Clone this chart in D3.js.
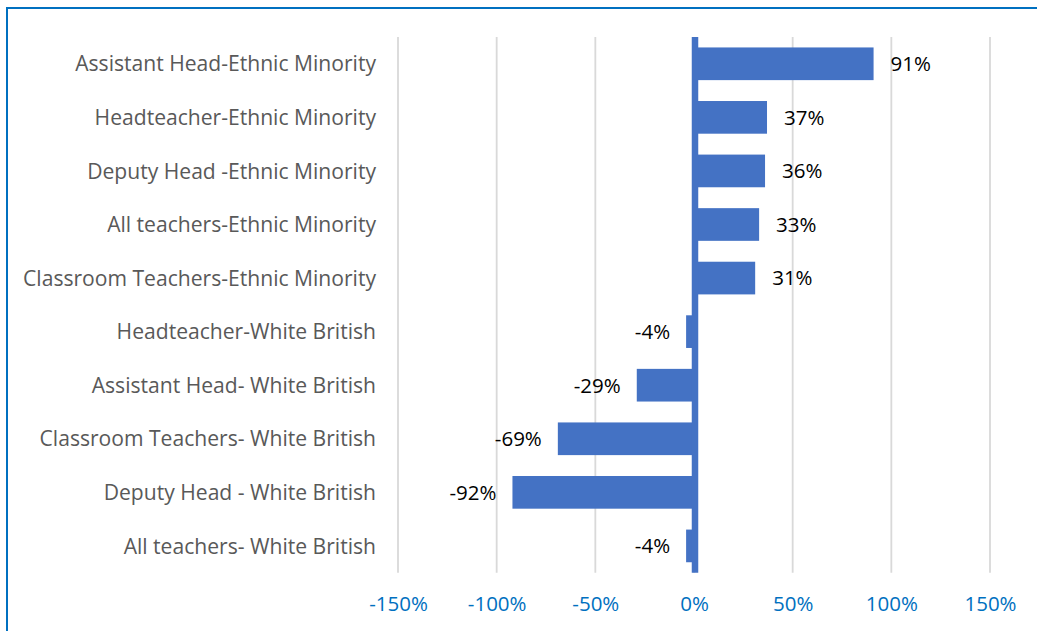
<!DOCTYPE html>
<html>
<head>
<meta charset="utf-8">
<script src="https://cdn.jsdelivr.net/npm/d3@7"></script>
<style>
  html, body { margin: 0; padding: 0; background: #fff; }
  svg { display: block; }
</style>
</head>
<body>
<svg id="chart" width="1037" height="631"></svg>
<script>
// Change in staff numbers by role and ethnicity
const categories = [
  "Assistant Head-Ethnic Minority",
  "Headteacher-Ethnic Minority",
  "Deputy Head -Ethnic Minority",
  "All teachers-Ethnic Minority",
  "Classroom Teachers-Ethnic Minority",
  "Headteacher-White British",
  "Assistant Head- White British",
  "Classroom Teachers- White British",
  "Deputy Head - White British",
  "All teachers- White British"
];
const values = [0.91, 0.37, 0.36, 0.33, 0.31, -0.04, -0.29, -0.69, -0.92, -0.04];
const tickValues = [-1.5, -1.0, -0.5, 0, 0.5, 1.0, 1.5];

const FONT = "'Open Sans', 'DejaVu Sans', sans-serif";
const BAR = "#4472C4";

const svg = d3.select("#chart");

// outer chart frame (extends past the right and bottom edges)
svg.append("rect")
  .attr("x", 7).attr("y", 8)
  .attr("width", 1200).attr("height", 800)
  .attr("fill", "none")
  .attr("stroke", "#0070C0")
  .attr("stroke-width", 2);

const plot = { left: 398, right: 990, top: 37, bottom: 572.7 };

const x = d3.scaleLinear().domain([-1.5, 1.5]).range([plot.left, plot.right]);
const y = d3.scaleBand().domain(categories).range([plot.top, plot.bottom])
  .paddingInner(0.39).paddingOuter(0.195);

// vertical gridlines
svg.append("g")
  .selectAll("line")
  .data(tickValues)
  .join("line")
  .attr("x1", d => x(d)).attr("x2", d => x(d))
  .attr("y1", plot.top).attr("y2", plot.bottom)
  .attr("stroke", "#d9d9d9")
  .attr("stroke-width", 1.8);

// bars
svg.append("g")
  .selectAll("rect")
  .data(categories.map((c, i) => ({ c, v: values[i] })))
  .join("rect")
  .attr("x", d => Math.min(x(0), x(d.v)))
  .attr("width", d => Math.abs(x(d.v) - x(0)))
  .attr("y", d => y(d.c))
  .attr("height", y.bandwidth())
  .attr("fill", BAR);

// zero axis line
svg.append("line")
  .attr("x1", x(0) + 1).attr("x2", x(0) + 1)
  .attr("y1", plot.top).attr("y2", plot.bottom)
  .attr("stroke", BAR)
  .attr("stroke-width", 6.5);

// value labels
svg.append("g")
  .selectAll("text")
  .data(categories.map((c, i) => ({ c, v: values[i] })))
  .join("text")
  .attr("x", d => d.v >= 0 ? x(d.v) + 17 : x(d.v) - 16)
  .attr("y", d => y(d.c) + y.bandwidth() / 2)
  .attr("dy", "0.36em")
  .attr("text-anchor", d => d.v >= 0 ? "start" : "end")
  .attr("font-family", FONT)
  .attr("font-size", 20.5)
  .attr("fill", "#000")
  .text(d => Math.round(d.v * 100) + "%");

// category axis labels
const yAxis = d3.axisLeft(y).tickSize(0).tickPadding(0);
const gy = svg.append("g")
  .attr("transform", `translate(${376},0)`)
  .call(yAxis);
gy.select(".domain").remove();
gy.selectAll("text")
  .attr("font-family", FONT)
  .attr("font-size", 21.1)
  .attr("fill", "#595959")
  .attr("dy", "0.36em");

// percentage axis labels
const xAxis = d3.axisBottom(x).tickValues(tickValues)
  .tickFormat(d => Math.round(d * 100) + "%")
  .tickSize(0).tickPadding(0);
const gx = svg.append("g")
  .attr("transform", `translate(0,${604})`)
  .call(xAxis);
gx.select(".domain").remove();
gx.selectAll("text")
  .attr("font-family", FONT)
  .attr("font-size", 20.5)
  .attr("fill", "#0070C0")
  .attr("dy", "0.36em");
</script>
</body>
</html>
